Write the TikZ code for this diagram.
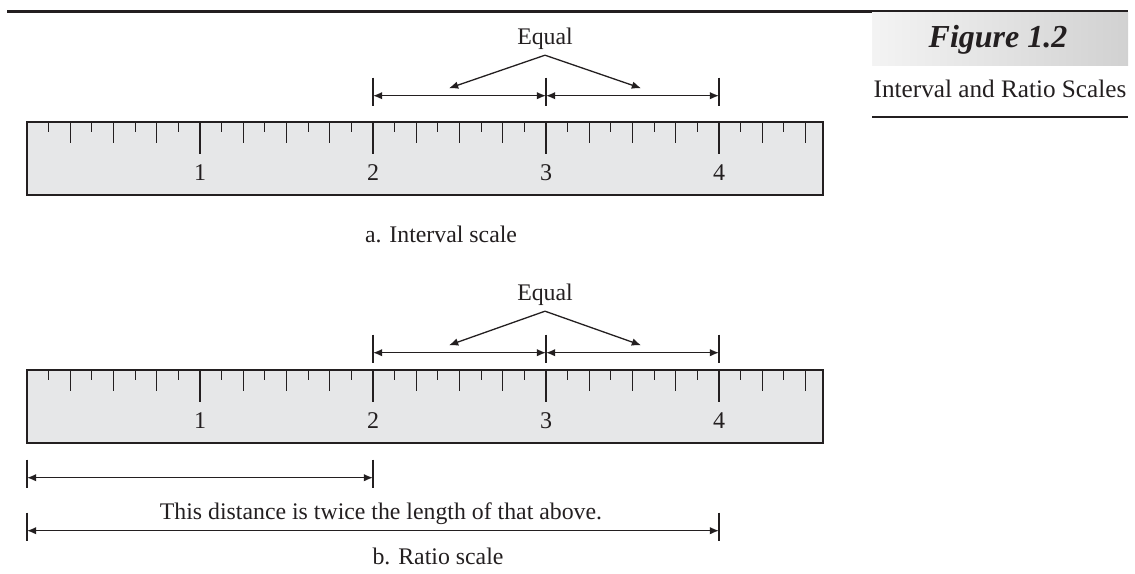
\documentclass[tikz,border=0pt]{standalone}
\usepackage{fontspec}
\setmainfont{Liberation Serif}
\usetikzlibrary{arrows.meta,positioning}
\definecolor{ink}{HTML}{231F20}
\definecolor{rulerfill}{HTML}{E6E7E8}

\begin{document}
\begin{tikzpicture}[x=0.5pt, y=-0.5pt,
  ruler/.style={draw=ink, line width=1.2pt, fill=rulerfill},
  tick/.style={draw=ink, line width=0.6pt},
  num/.style={font=\fontsize{12}{14}\selectfont, text=ink, inner sep=0pt},
  txt/.style={font=\fontsize{11.9}{14}\selectfont, text=ink, inner sep=0pt},
  bar/.style={draw=ink, line width=0.7pt},
  dim/.style={draw=ink, line width=0.75pt, {Latex[length=4.6pt,width=3.8pt]}-{Latex[length=4.6pt,width=3.8pt]}},
  pointer/.style={draw=ink, line width=0.65pt, -{Latex[length=4.6pt,width=3.8pt]}}
]
  \useasboundingbox (0,0) rectangle (1135,573);

  % header on the right
  \shade[left color=gray!9, right color=gray!36] (872,12) rectangle (1128,65);
  \draw[ink, line width=1.5pt] (7,11.5) -- (872,11.5);
  \draw[ink, line width=0.9pt] (872,11) -- (1128,11);
  \node[font=\fontsize{16}{18}\selectfont\bfseries\itshape, text=ink] (figno) at (998,40) {Figure 1.2};
  \node[font=\fontsize{12.6}{15}\selectfont, text=ink] (figcap) at (1000,89) {Interval and Ratio Scales};
  \draw[ink, line width=1.4pt] (872,117) -- (1128,117);

  % the two rulers
  \foreach \ytop/\rl in {122/a, 370/b}{
    \draw[ruler] (27,\ytop) rectangle (823,\ytop+73);
    \foreach \i in {1,...,36}{
      \pgfmathsetmacro\len{mod(\i,8)==0 ? 32 : (mod(\i,2)==0 ? 21 : 10)}
      \draw[tick] (27+\i*21.625,\ytop) -- ++(0,\len);
    }
    \foreach \n in {1,...,4}
      \node[num] (\rl\n) at (27+\n*173,\ytop+51) {\n};
  }

  % equal intervals above each ruler
  \foreach \rl/\yd/\ye in {a/95.7/39, b/352.7/295}{
    \foreach \n in {2,3,4}{
      \coordinate (d\rl\n) at (27+\n*173,\yd);
      \draw[bar] (d\rl\n) ++(0,-18) -- ++(0,28.5);
    }
    \draw[dim] (d\rl2) -- (d\rl3);
    \draw[dim] (d\rl3) -- (d\rl4);
    \node[txt] (eq\rl) at (545,\ye) {Equal};
    \coordinate (lt\rl) at (449,\yd-7.5);
    \coordinate (rt\rl) at (641,\yd-7.5);
    \draw[pointer] ([yshift=-2.5pt]eq\rl.south) -- (lt\rl);
    \draw[pointer] ([yshift=-2.5pt]eq\rl.south) -- (rt\rl);
  }

  % ratio distances
  \coordinate (p0) at (27,477.7);
  \coordinate (p2) at (373,477.7);
  \coordinate (q0) at (27,530.7);
  \coordinate (q4) at (719,530.7);
  \foreach \c in {p0,p2,q0,q4}
    \draw[bar] (\c) ++(0,-18) -- ++(0,28.5);
  \draw[dim] (p0) -- (p2);
  \draw[dim] (q0) -- (q4);
  \node[txt] (twice) at (381,514) {This distance is twice the length of that above.};

  % captions
  \node[txt] (capa) at (441,234) {a. Interval scale};
  \node[txt] (capb) at (438,556) {b. Ratio scale};
\end{tikzpicture}
\end{document}
